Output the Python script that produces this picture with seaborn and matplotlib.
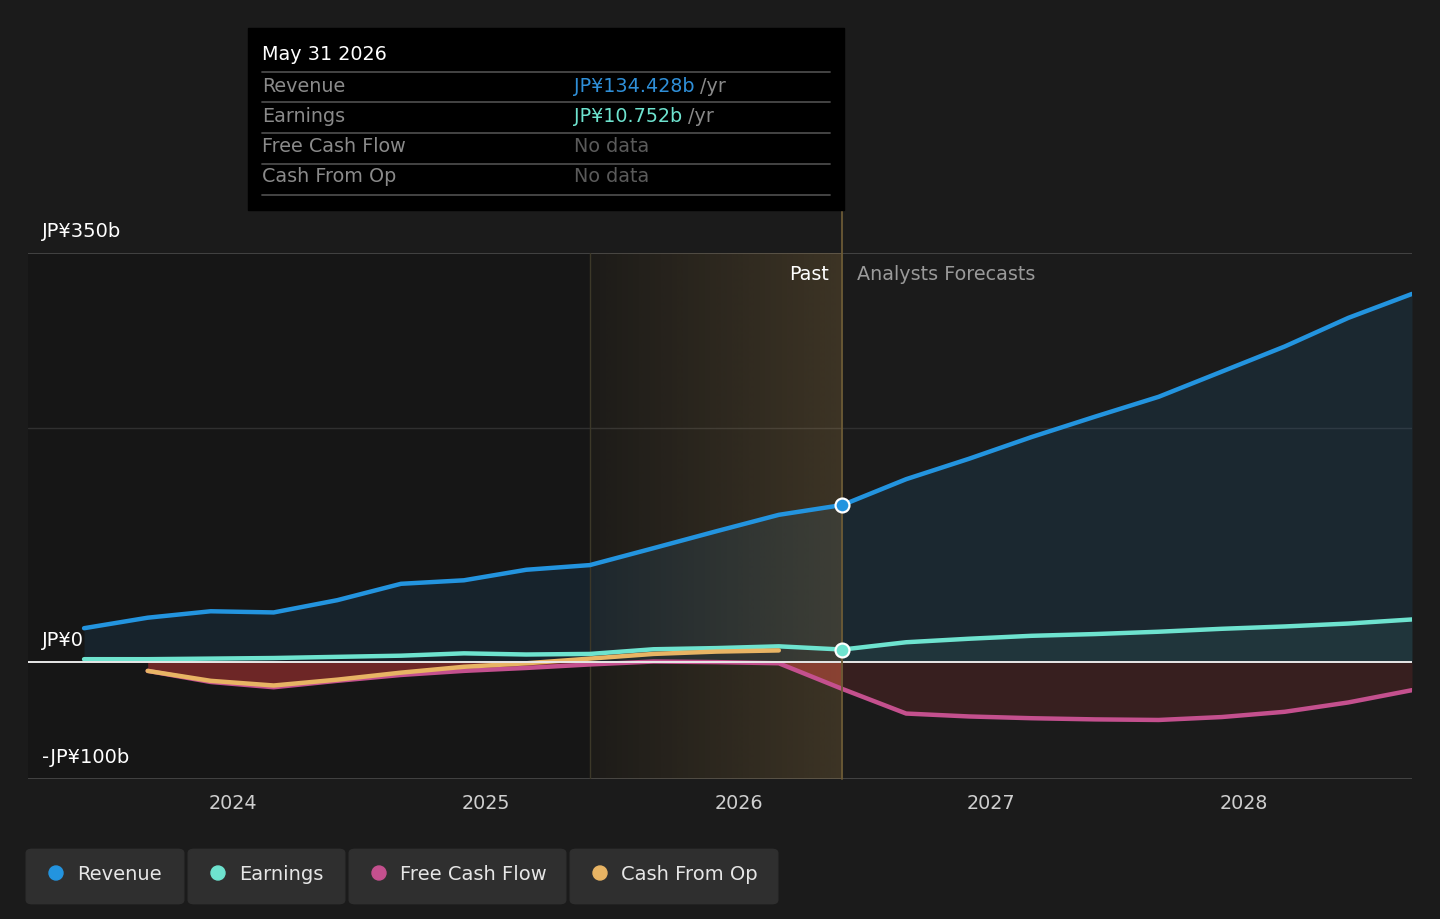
import numpy as np
import pandas as pd
import matplotlib
matplotlib.use("Agg")
import matplotlib.pyplot as plt
import matplotlib.dates as mdates
from matplotlib.patches import Rectangle, FancyBboxPatch, Ellipse
from matplotlib.lines import Line2D
import seaborn as sns

# --- data (JP¥ billions) ---
past_dates = ["2023-05-31", "2023-08-31", "2023-11-30", "2024-02-29", "2024-05-31",
              "2024-08-31", "2024-11-30", "2025-02-28", "2025-05-31", "2025-08-31",
              "2025-11-30", "2026-02-28", "2026-05-31"]
forecast_dates = ["2026-08-31", "2026-11-30", "2027-02-28", "2027-05-31", "2027-08-31",
                  "2027-11-30", "2028-02-29", "2028-05-31", "2028-08-31"]

revenue_past = [29, 38, 43.5, 42.5, 53, 67, 70, 79, 83, 97.5, 112, 126, 134.428]
revenue_forecast = [156.5, 174, 192.5, 210, 227, 248.5, 270, 294.5, 315]

earnings_past = [2.5, 2.5, 3, 3.5, 4.5, 5.5, 7.5, 6.5, 7, 11, 12, 13.5, 10.752]
earnings_forecast = [17, 20, 22.5, 24, 26, 28.5, 30.5, 33, 36.5]

fcf_dates = past_dates[1:] + forecast_dates
fcf_values = [-7.5, -17, -21.5, -16, -11, -7.5, -5, -2, 0.5, 0, -1, -23,
              -44, -46.5, -48, -49, -49.5, -47, -42.5, -34.5, -24]

cfo_dates = past_dates[1:12]
cfo_values = [-7.5, -16, -20, -15, -9, -4, -1, 3, 7, 9, 10]

series_names = ["Revenue", "Earnings", "Free Cash Flow", "Cash From Op"]
series_colors = ["#2394df", "#6ee3cf", "#c4508e", "#e8b464"]
y_ticks = [350, 0, -100]
y_tick_labels = ["JP¥350b", "JP¥0", "-JP¥100b"]
x_years = [2024, 2025, 2026, 2027, 2028]

tooltip_date = "May 31 2026"
tooltip_rows = ["Revenue", "Earnings", "Free Cash Flow", "Cash From Op"]
tooltip_values = ["JP¥134.428b", "JP¥10.752b", "No data", "No data"]

# --- build long table ---
frames = [
    pd.DataFrame({"date": past_dates + forecast_dates,
                  "value": revenue_past + revenue_forecast, "series": "Revenue"}),
    pd.DataFrame({"date": past_dates + forecast_dates,
                  "value": earnings_past + earnings_forecast, "series": "Earnings"}),
    pd.DataFrame({"date": fcf_dates, "value": fcf_values, "series": "Free Cash Flow"}),
    pd.DataFrame({"date": cfo_dates, "value": cfo_values, "series": "Cash From Op"}),
]
df = pd.concat(frames, ignore_index=True)
df["date"] = pd.to_datetime(df["date"])

BG = "#1b1b1b"
W, H = 1440, 919
FS = 13.8

sns.set_theme(style="dark")
plt.rcParams["font.family"] = ["DejaVu Sans"]

fig = plt.figure(figsize=(14.4, 9.19), dpi=100, facecolor=BG)
ax = fig.add_axes([28 / W, (H - 779) / H, 1384 / W, 526 / H])
ax.set_facecolor(BG)
for s in ax.spines.values():
    s.set_visible(False)

x_lo = mdates.date2num(pd.Timestamp("2023-03-11"))
x_hi = mdates.date2num(pd.Timestamp("2028-08-31"))
ax.set_xlim(x_lo, x_hi)
ax.set_ylim(-100, 350)

split_start = mdates.date2num(pd.Timestamp(past_dates[8]))
split = mdates.date2num(pd.Timestamp(past_dates[-1]))

# darker past background
ax.axvspan(x_lo, split, color="#161616", zorder=0, lw=0)

# past highlight gradient
grad = np.zeros((1, 256, 4))
grad[..., 0] = 200 / 255
grad[..., 1] = 160 / 255
grad[..., 2] = 90 / 255
grad[..., 3] = np.linspace(0.04, 0.22, 256)
ax.imshow(grad, extent=[split_start, split, -100, 350], aspect="auto",
          interpolation="bilinear", zorder=3)
ax.axvline(split_start, color="#3c3828", lw=1, zorder=3)

# grid lines
ax.axhline(350, color="#4a4a4a", lw=1.2, zorder=1)
ax.axhline(200, color="#303030", lw=1, zorder=1)
ax.axhline(-100, color="#4a4a4a", lw=1.2, zorder=1)

# fills
rev = df[df.series == "Revenue"]
ear = df[df.series == "Earnings"]
fcf = df[df.series == "Free Cash Flow"]
rx = mdates.date2num(rev["date"])
ax.fill_between(rx, rev["value"], 0, color="#2394df", alpha=0.11, lw=0, zorder=2)
ex = mdates.date2num(ear["date"])
ax.fill_between(ex, ear["value"], 0, where=ex >= split, color="#6ee3cf",
                alpha=0.07, lw=0, zorder=2)
fx = mdates.date2num(fcf["date"])
ax.fill_between(fx, fcf["value"], 0, where=fx <= split, color="#a83232",
                alpha=0.6, lw=0, zorder=2, interpolate=True)
ax.fill_between(fx, fcf["value"], 0, where=fx >= split, color="#a83232",
                alpha=0.2, lw=0, zorder=2, interpolate=True)

# lines
sns.lineplot(data=df, x="date", y="value", hue="series", hue_order=series_names,
             palette=series_colors, estimator=None, linewidth=3.2, legend=False,
             ax=ax, zorder=4)
for ln in ax.lines:
    ln.set_solid_capstyle("round")

ax.axhline(0, color="#e8e8e8", lw=1.4, zorder=5)

# split marker line (extends up to tooltip)
ax.plot([split, split], [-100, 387], color="#6b5a35", lw=1.3, zorder=5,
        clip_on=False)

# highlighted points
split_ts = pd.Timestamp(past_dates[-1])
ax.plot([split_ts], [revenue_past[-1]], "o", ms=10, color=series_colors[0],
        mec="white", mew=1.6, zorder=6)
ax.plot([split_ts], [earnings_past[-1]], "o", ms=10, color=series_colors[1],
        mec="white", mew=1.6, zorder=6)

# axes ticks
ax.set_xticks([mdates.date2num(pd.Timestamp(f"{y}-01-01")) for y in x_years])
ax.set_xticklabels([str(y) for y in x_years], color="#cfcfcf", fontsize=FS)
ax.tick_params(axis="x", length=0, pad=11)
ax.set_yticks([])
ax.set_xlabel("")
ax.set_ylabel("")
ax.grid(False)

ytrans = ax.get_yaxis_transform()
for v, lab in zip(y_ticks, y_tick_labels):
    ax.text(14 / 1384, v + 10, lab, transform=ytrans, color="white",
            fontsize=14, ha="left", va="bottom", zorder=7)

ax.text(split - 20, 332, "Past", color="white", fontsize=FS, ha="right",
        va="center", zorder=7)
ax.text(split + 21, 332, "Analysts Forecasts", color="#9a9a9a", fontsize=FS,
        ha="left", va="center", zorder=7)

# tooltip
def fx_(px):
    return px / W


def fy_(py):
    return (H - py) / H


fig.add_artist(Rectangle((fx_(248), fy_(210)), 596 / W, 182 / H,
                         transform=fig.transFigure, color="black", zorder=10))
fig.text(fx_(262), fy_(55), tooltip_date, color="white", fontsize=FS,
         va="center", ha="left", zorder=11)
for py in [72, 102, 133, 164, 195]:
    fig.add_artist(Line2D([fx_(262), fx_(830)], [fy_(py), fy_(py)],
                          transform=fig.transFigure, color="#4a4a4a", lw=1.3,
                          zorder=11))
value_colors = ["#2f8fd8", "#6ee3cf", "#5a5a5a", "#5a5a5a"]
renderer = fig.canvas.get_renderer()
for i, (lab, val) in enumerate(zip(tooltip_rows, tooltip_values)):
    py = [86, 116, 147, 177][i]
    fig.text(fx_(262), fy_(py), lab, color="#8a8a8a", fontsize=FS,
             va="center", ha="left", zorder=11)
    t = fig.text(fx_(574), fy_(py), val, color=value_colors[i], fontsize=FS,
                 va="center", ha="left", zorder=11)
    if i < 2:
        bb = t.get_window_extent(renderer=renderer)
        fig.text(bb.x1 / W + fx_(6), fy_(py), "/yr", color="#8a8a8a",
                 fontsize=FS, va="center", ha="left", zorder=11)

# legend chips
chips = [(28, 182), (190, 343), (351, 564), (572, 776)]
for (x0, x1), name, col in zip(chips, series_names, series_colors):
    fig.add_artist(FancyBboxPatch((fx_(x0 + 4), fy_(904 - 4)), (x1 - x0 - 8) / W,
                                  47 / H, boxstyle="round,pad=0.004",
                                  transform=fig.transFigure, color="#2f2f2f",
                                  zorder=10))
    fig.add_artist(Ellipse((fx_(x0 + 28), fy_(873)), 14 / W, 14 / H,
                           transform=fig.transFigure, color=col, zorder=11))
    fig.text(fx_(x0 + 49), fy_(874), name, color="#e6e6e6", fontsize=14,
             va="center", ha="left", zorder=11)

fig.savefig("out.png", dpi=100, facecolor=BG)
